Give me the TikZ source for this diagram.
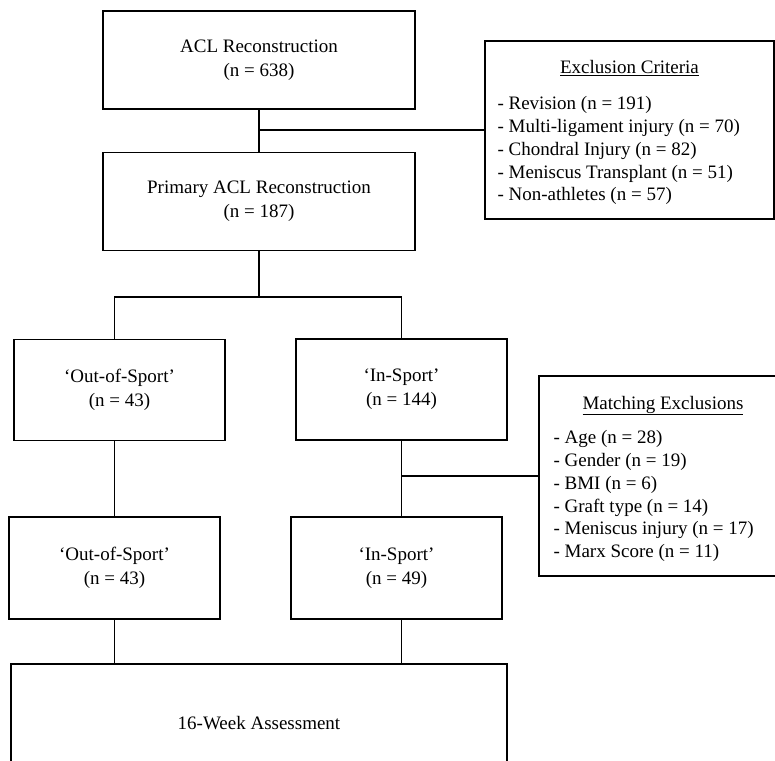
\documentclass[tikz,border=0pt]{standalone}
\usepackage{fontspec}
\setmainfont{Liberation Serif}

\begin{document}
\begin{tikzpicture}[x=1pt,y=-1pt,font=\fontsize{19}{24}\selectfont,line width=1.1pt]
\tikzset{
  box/.style={draw,minimum width=211pt,minimum height=101pt,inner sep=0pt,align=center},
  bigbox/.style={box,minimum width=312pt,minimum height=98pt},
  listbox/.style={draw,inner sep=0pt},
  items/.style={align=left,anchor=north west,inner sep=0pt,font=\fontsize{19}{22.8}\selectfont}
}
\useasboundingbox (0,0) rectangle (775,760);

\node[bigbox] (acl) at (259,60) {ACL Reconstruction\\(n = 638)};
\node[bigbox] (prim) at (259,201.5) {Primary ACL Reconstruction\\(n = 187)};

\node[listbox,minimum width=289pt,minimum height=178pt] (excl) at (629.5,130) {};
\node[anchor=base,inner sep=0pt] (excltitle) at (629.5,74) {\underline{Exclusion Criteria}};
\node[items] (excllist) at (497,96) {- Revision (n = 191)\\- Multi-ligament injury (n = 70)\\- Chondral Injury (n = 82)\\- Meniscus Transplant (n = 51)\\- Non-athletes (n = 57)};

\node[box] (out1) at (119.5,390) {`Out-of-Sport'\\(n = 43)};
\node[box] (in1) at (401.5,389.5) {`In-Sport'\\(n = 144)};

\node[listbox,minimum width=248pt,minimum height=200pt] (match) at (663,476) {};
\node[anchor=base,inner sep=0pt] (matchtitle) at (663,409) {\underline{Matching Exclusions}};
\node[items] (matchlist) at (553,430) {- Age (n = 28)\\- Gender (n = 19)\\- BMI (n = 6)\\- Graft type (n = 14)\\- Meniscus injury (n = 17)\\- Marx Score (n = 11)};

\node[box,minimum height=102pt] (out2) at (114.5,568) {`Out-of-Sport'\\(n = 43)};
\node[box,minimum height=102pt] (in2) at (396.5,568) {`In-Sport'\\(n = 49)};

\node[box,minimum width=496pt,minimum height=118pt] (week) at (259,723) {16-Week Assessment};

\coordinate (split) at (259,297);

\draw (acl.south) -- (prim.north);
\draw (acl.south |- excl.west) -- (excl.west);
\draw (prim.south) -- (split);
\draw (out2.north |- out1.north) |- (split) -| (in1.north);
\draw (out2.north |- out1.south) -- (out2.north);
\draw (in1.south) -- (in1.south |- in2.north);
\draw (in1.south |- match.west) -- (match.west);
\draw (out2.south) -- (out2.south |- week.north);
\draw (in1.south |- in2.south) -- (in1.south |- week.north);

\end{tikzpicture}
\end{document}
